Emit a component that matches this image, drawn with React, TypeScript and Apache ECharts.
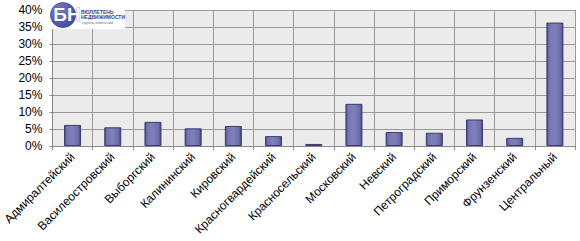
import React, { useEffect, useRef } from "react";
import * as echarts from "echarts";

const categories = [
  "Адмиралтейский",
  "Василеостровский",
  "Выборгский",
  "Калининский",
  "Кировский",
  "Красногвардейский",
  "Красносельский",
  "Московский",
  "Невский",
  "Петроградский",
  "Приморский",
  "Фрунзенский",
  "Центральный",
];
const values = [6.2, 5.5, 7.1, 5.2, 5.9, 2.9, 0.6, 12.4, 4.1, 3.9, 7.8, 2.4, 36.3];
const yTicks = [0, 5, 10, 15, 20, 25, 30, 35, 40];

export default function App() {
  const ref = useRef<HTMLDivElement>(null);
  useEffect(() => {
    if (!ref.current) return;
    const chart = echarts.init(ref.current, null, { renderer: "svg" });
    const font = "Arial, 'Liberation Sans', sans-serif";
    chart.setOption({
      animation: false,
      backgroundColor: "#ffffff",
      grid: {
        left: 51,
        right: 5,
        top: 10,
        bottom: 95,
        show: true,
        backgroundColor: "#ebebeb",
        borderWidth: 0,
      },
      xAxis: {
        type: "category",
        data: categories,
        axisLine: { show: true, lineStyle: { color: "#8a8a8a", width: 1 } },
        axisTick: { show: true, alignWithLabel: false, length: 4, lineStyle: { color: "#8a8a8a" } },
        splitLine: { show: true, interval: 0, lineStyle: { color: "#9a9a9a", width: 1 } },
        axisLabel: {
          interval: 0,
          rotate: 45,
          margin: 9,
          fontSize: 12,
          fontFamily: font,
          color: "#000",
        },
      },
      yAxis: {
        type: "value",
        min: yTicks[0],
        max: yTicks[yTicks.length - 1],
        interval: 5,
        axisLine: { show: true, lineStyle: { color: "#8a8a8a" } },
        axisTick: { show: true, length: 3, lineStyle: { color: "#8a8a8a" } },
        splitLine: { show: true, lineStyle: { color: "#9a9a9a", width: 1 } },
        axisLabel: {
          formatter: (v: number) => v + "%",
          margin: 10,
          fontSize: 12,
          fontFamily: font,
          color: "#000",
        },
      },
      series: [
        {
          type: "bar",
          data: values,
          barWidth: 17,
          itemStyle: {
            color: new echarts.graphic.LinearGradient(0, 0, 1, 0, [
              { offset: 0, color: "#4c4c86" },
              { offset: 0.15, color: "#7676b4" },
              { offset: 0.5, color: "#8080bc" },
              { offset: 0.85, color: "#6c6caa" },
              { offset: 1, color: "#45457c" },
            ]),
            borderColor: "#3c3c6c",
            borderWidth: 1,
          },
        },
      ],
      graphic: [
        {
          type: "rect",
          left: 47,
          top: 0,
          shape: { width: 78, height: 29 },
          style: { fill: "#ffffff" },
          z: 10,
        },
        {
          type: "circle",
          shape: { cx: 63, cy: 15, r: 13 },
          style: {
            fill: new echarts.graphic.RadialGradient(0.35, 0.35, 0.8, [
              { offset: 0, color: "#7a82c8" },
              { offset: 1, color: "#3a3f95" },
            ]),
          },
          z: 11,
        },
        {
          type: "text",
          left: 53,
          top: 5,
          style: {
            text: "БН",
            fill: "#ffffff",
            font: "bold 19px Arial, 'Liberation Sans', sans-serif",
            stroke: "#3a3f95",
            lineWidth: 0.5,
          },
          z: 12,
        },
        {
          type: "text",
          left: 81,
          top: 9,
          style: {
            text: "БЮЛЛЕТЕНЬ\nНЕДВИЖИМОСТИ",
            fill: "#3a3f95",
            font: "bold 5px Arial, 'Liberation Sans', sans-serif",
            lineHeight: 5,
          },
          z: 12,
        },
        {
          type: "text",
          left: 82,
          top: 20,
          style: {
            text: "группа компаний",
            fill: "#6a6fa8",
            font: "4px Arial, 'Liberation Sans', sans-serif",
          },
          z: 12,
        },
      ],
    });
    return () => chart.dispose();
  }, []);
  return <div ref={ref} style={{ width: 580, height: 241, position: "absolute", left: 0, top: 0 }} />;
}
